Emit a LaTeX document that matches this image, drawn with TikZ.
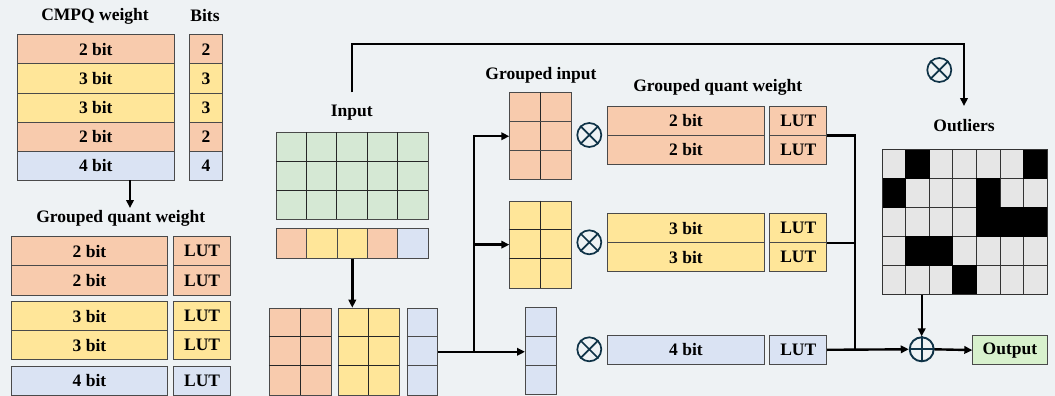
\documentclass[tikz,border=0pt]{standalone}
\usepackage{fontspec}
\setmainfont{Liberation Serif}
\usetikzlibrary{arrows.meta,calc}
\definecolor{bgc}{HTML}{EEF2F4}
\definecolor{org}{HTML}{F8CBAD}
\definecolor{yel}{HTML}{FFE699}
\definecolor{blu}{HTML}{DAE3F3}
\definecolor{grn}{HTML}{D5E8D4}
\definecolor{lgr}{HTML}{E6E6E6}
\definecolor{outc}{HTML}{D8F1CD}
\definecolor{bordc}{HTML}{4A4A4A}
\definecolor{opc}{HTML}{0F3347}
\newcommand\lbl{\bfseries\fontsize{17.5}{17.5}\selectfont}
\begin{document}
\begin{tikzpicture}[x=1pt,y=-1pt,
  bx/.style={draw=bordc, line width=0.9pt, inner sep=0pt, anchor=north west, font=\lbl},
  ttl/.style={font=\lbl, inner sep=0pt},
  gl/.style={draw=black!85, line width=0.9pt},
  conn/.style={line width=2.4pt, line join=miter},
  arr/.style={conn, -{Triangle[length=8pt,width=7.5pt]}},
  op/.style={circle, draw=opc, line width=1.7pt, minimum size=24pt, inner sep=0pt}]
\useasboundingbox (0,0) rectangle (1055,396);
\fill[bgc] (0,0) rectangle (1055,396);

% ---------- left panel ----------
\node[ttl] (tcmpq) at (95,16) {CMPQ weight};
\node[ttl] (tbits) at (205,16) {Bits};
\node[bx,fill=org,minimum width=157.3pt,minimum height=29.1pt] (c1) at (16.7,34.3) {2 bit};
\node[bx,fill=yel,minimum width=157.3pt,minimum height=29.1pt] (c2) at (16.7,63.4) {3 bit};
\node[bx,fill=yel,minimum width=157.3pt,minimum height=29.1pt] (c3) at (16.7,92.5) {3 bit};
\node[bx,fill=org,minimum width=157.3pt,minimum height=29.1pt] (c4) at (16.7,121.6) {2 bit};
\node[bx,fill=blu,minimum width=157.3pt,minimum height=29.1pt] (c5) at (16.7,150.7) {4 bit};
\node[bx,fill=org,minimum width=32.4pt,minimum height=29.1pt] (b1) at (189.3,34.3) {2};
\node[bx,fill=yel,minimum width=32.4pt,minimum height=29.1pt] (b2) at (189.3,63.4) {3};
\node[bx,fill=yel,minimum width=32.4pt,minimum height=29.1pt] (b3) at (189.3,92.5) {3};
\node[bx,fill=org,minimum width=32.4pt,minimum height=29.1pt] (b4) at (189.3,121.6) {2};
\node[bx,fill=blu,minimum width=32.4pt,minimum height=29.1pt] (b5) at (189.3,150.7) {4};
\coordinate (la1) at (130,180);
\coordinate (la2) at (130,208);
\draw[arr] (la1) -- (la2);
\node[ttl] (tgqw1) at (120.7,218) {Grouped quant weight};
\node[bx,fill=org,minimum width=156.6pt,minimum height=29.3pt] (l1) at (10.7,236) {2 bit};
\node[bx,fill=org,minimum width=156.6pt,minimum height=29.3pt] (l2) at (10.7,265.3) {2 bit};
\node[bx,fill=yel,minimum width=156.6pt,minimum height=29.2pt] (l3) at (10.7,301) {3 bit};
\node[bx,fill=yel,minimum width=156.6pt,minimum height=29.2pt] (l4) at (10.7,330.2) {3 bit};
\node[bx,fill=blu,minimum width=156.6pt,minimum height=28.5pt] (l5) at (10.7,366) {4 bit};
\node[bx,fill=org,minimum width=56.7pt,minimum height=29.3pt] (lu1) at (173.3,236) {LUT};
\node[bx,fill=org,minimum width=56.7pt,minimum height=29.3pt] (lu2) at (173.3,265.3) {LUT};
\node[bx,fill=yel,minimum width=56.7pt,minimum height=29.2pt] (lu3) at (173.3,301) {LUT};
\node[bx,fill=yel,minimum width=56.7pt,minimum height=29.2pt] (lu4) at (173.3,330.2) {LUT};
\node[bx,fill=blu,minimum width=56.7pt,minimum height=28.5pt] (lu5) at (173.3,366) {LUT};

% ---------- input ----------
\node[ttl] (tin) at (351.7,113) {Input};
\node[bx,fill=grn,minimum width=151.7pt,minimum height=87pt] (ing) at (276,132.3) {};
\foreach \i in {1,...,4} \draw[gl] (276+\i*30.34,132.3) -- ++(0,87);
\foreach \j in {1,2} \draw[gl] (276,132.3+\j*29) -- ++(151.7,0);
\foreach \i/\c in {1/org,2/yel,3/yel,4/org,5/blu}
  \node[bx,fill=\c,minimum width=30.34pt,minimum height=29.4pt] (s\i) at (276+\i*30.34-30.34,228.3) {};

% bottom matrices
\node[bx,fill=org,minimum width=61.4pt,minimum height=87.3pt] (mo) at (269.3,307.7) {};
\draw[gl] (300,307.7) -- ++(0,87.3);
\foreach \j in {1,2} \draw[gl] (269.3,307.7+\j*29.1) -- ++(61.4,0);
\node[bx,fill=yel,minimum width=60.7pt,minimum height=87.3pt] (my) at (338.3,307.7) {};
\draw[gl] (368.65,307.7) -- ++(0,87.3);
\foreach \j in {1,2} \draw[gl] (338.3,307.7+\j*29.1) -- ++(60.7,0);
\node[bx,fill=blu,minimum width=30.3pt,minimum height=87.3pt] (mb) at (406.7,307.7) {};
\foreach \j in {1,2} \draw[gl,draw=bordc] (406.7,307.7+\j*29.1) -- ++(30.3,0);

% grouped input
\node[ttl] (tgi) at (541,75) {Grouped input};
\node[bx,fill=org,minimum width=61.4pt,minimum height=87pt] (go) at (509.3,92.3) {};
\draw[gl] (540,92.3) -- ++(0,87);
\foreach \j in {1,2} \draw[gl,draw=bordc] (509.3,92.3+\j*29) -- ++(61.4,0);
\node[bx,fill=yel,minimum width=61.4pt,minimum height=87pt] (gy) at (509.3,200.7) {};
\draw[gl] (540,200.7) -- ++(0,87);
\foreach \j in {1,2} \draw[gl] (509.3,200.7+\j*29) -- ++(61.4,0);
\node[bx,fill=blu,minimum width=30.7pt,minimum height=87pt] (gb) at (525,307.3) {};
\foreach \j in {1,2} \draw[gl,draw=bordc] (525,307.3+\j*29) -- ++(30.7,0);

% grouped quant weight (right)
\node[ttl] (tgqw2) at (717.7,87) {Grouped quant weight};
\node[bx,fill=org,minimum width=157.6pt,minimum height=29pt] (r1) at (606.7,105.7) {2 bit};
\node[bx,fill=org,minimum width=157.6pt,minimum height=29pt] (r2) at (606.7,134.7) {2 bit};
\node[bx,fill=yel,minimum width=157.6pt,minimum height=29pt] (r3) at (606.7,213.3) {3 bit};
\node[bx,fill=yel,minimum width=157.6pt,minimum height=29pt] (r4) at (606.7,242.3) {3 bit};
\node[bx,fill=blu,minimum width=157.6pt,minimum height=28.7pt] (r5) at (606.7,335) {4 bit};
\node[bx,fill=org,minimum width=57pt,minimum height=29pt] (ru1) at (769.3,105.7) {LUT};
\node[bx,fill=org,minimum width=57pt,minimum height=29pt] (ru2) at (769.3,134.7) {LUT};
\node[bx,fill=yel,minimum width=57pt,minimum height=29pt] (ru3) at (769.3,213.3) {LUT};
\node[bx,fill=yel,minimum width=57pt,minimum height=29pt] (ru4) at (769.3,242.3) {LUT};
\node[bx,fill=blu,minimum width=57pt,minimum height=28.7pt] (ru5) at (769.3,335) {LUT};

% multiply ops
\foreach \n/\px/\py in {m1/589.3/135, m2/589.3/242.3, m3/589.3/349.3, m4/939.3/70}{
  \node[op] (\n) at (\px,\py) {};
  \draw[opc,line width=1.7pt] (\n.north west) -- (\n.south east) (\n.north east) -- (\n.south west);
}

% outliers
\node[ttl] (tout) at (964,126) {Outliers};
\foreach \r in {0,...,4}
  \foreach \c in {0,...,6}
    \node[bx,draw=black!80,fill=lgr,minimum width=23.57pt,minimum height=29.06pt] (o-\r-\c) at (881.7+\c*23.57,149+\r*29.06) {};
\foreach \r/\c in {0/1,0/6,1/0,1/4,2/4,2/5,2/6,3/1,3/2,4/3}
  \fill[black] (o-\r-\c.north west) rectangle (o-\r-\c.south east);
\node[draw=black!80,line width=1pt,inner sep=0pt,anchor=north west,minimum width=165pt,minimum height=145.3pt] (og) at (881.7,149) {};

% sum and output
\node[op,line width=1.9pt] (plus) at (921.7,349.3) {};
\draw[opc,line width=1.9pt] (plus.north) -- (plus.south) (plus.west) -- (plus.east);
\node[bx,fill=outc,minimum width=74.4pt,minimum height=29.3pt] (out) at (972.3,335) {Output};

% ---------- connectors ----------
\draw[arr] (s3.south) -- (s3.south |- my.north);
\coordinate (t0) at (351.7,92.3);
\coordinate (t2) at (964,44);
\coordinate (t3) at (964,106);
\draw[arr] (t0) |- (t2) -- (t3);
\coordinate (tr) at (474,0);
\draw[arr] (mb.east) -- (mb.east -| gb.west);
\draw[arr] (mb.east -| tr) |- (go.west);
\draw[arr] (gy.west -| tr) -- (gy.west);
\coordinate (vb) at (854.7,349.3);
\draw[conn] (ru1.south east) -| (vb);
\draw[conn] (ru3.south east) -- (ru3.south east -| vb);
\draw[arr] (ru5.east) -- (plus.west);
\draw[arr] (og.south -| plus.north) -- (plus.north);
\draw[arr] (plus.east) -- (out.west);
\end{tikzpicture}
\end{document}
